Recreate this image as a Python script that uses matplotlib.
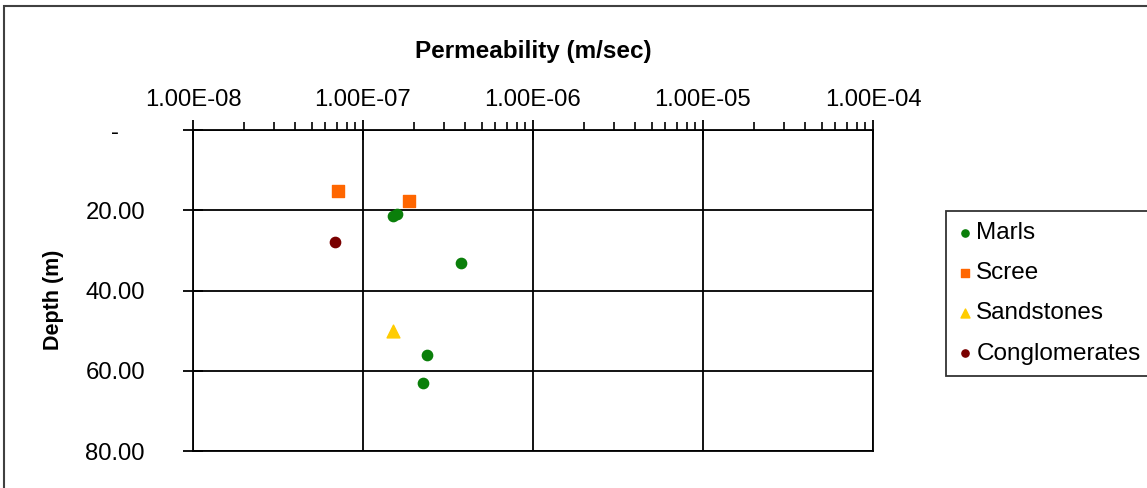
import matplotlib
matplotlib.use('Agg')
import matplotlib.pyplot as plt
from matplotlib.patches import Rectangle
from matplotlib.ticker import LogLocator, FixedLocator, NullFormatter

plt.rcParams['font.family'] = ['Liberation Sans', 'DejaVu Sans']

# permeability (m/sec) and depth (m) per rock type
marls_k = [1.50e-7, 1.58e-7, 3.77e-7, 2.38e-7, 2.25e-7]
marls_d = [21.4, 20.9, 33.2, 56.1, 63.0]
scree_k = [7.1e-8, 1.86e-7]
scree_d = [15.2, 17.6]
sand_k = [1.50e-7]
sand_d = [50.0]
cong_k = [6.8e-8]
cong_d = [28.0]

x_ticks = [1e-8, 1e-7, 1e-6, 1e-5, 1e-4]
x_labels = ['1.00E-08', '1.00E-07', '1.00E-06', '1.00E-05', '1.00E-04']
y_ticks = [0, 20, 40, 60, 80]
y_labels = ['-', '20.00', '40.00', '60.00', '80.00']

W, H = 1147, 488
fig = plt.figure(figsize=(W / 100, H / 100), dpi=100)
ax = fig.add_axes([193 / W, 1 - 451 / H, 680 / W, 321 / H])

ax.scatter(marls_k, marls_d, s=55, marker='o', color='#0a7f0a', label='Marls', zorder=3)
ax.scatter(scree_k, scree_d, s=70, marker='s', color='#ff6600', label='Scree', zorder=3)
ax.scatter(sand_k, sand_d, s=85, marker='^', color='#ffcc00', label='Sandstones', zorder=3)
ax.scatter(cong_k, cong_d, s=55, marker='o', color='#7a0000', label='Conglomerates', zorder=3)

ax.set_xscale('log')
ax.set_xlim(1e-8, 1e-4)
ax.set_ylim(80, 0)

ax.xaxis.set_ticks_position('top')
ax.xaxis.set_label_position('top')
ax.xaxis.set_major_locator(FixedLocator(x_ticks))
ax.set_xticklabels(x_labels)
ax.xaxis.set_minor_locator(LogLocator(base=10, subs=range(2, 10)))
ax.xaxis.set_minor_formatter(NullFormatter())
ax.set_yticks(y_ticks)
ax.set_yticklabels(y_labels)

ax.tick_params(axis='x', which='major', direction='inout', length=14, width=1.3,
               labelsize=17.2, pad=7)
ax.tick_params(axis='x', which='minor', direction='out', length=6, width=1.2)
ax.tick_params(axis='y', which='major', direction='inout', length=14, width=1.3,
               labelsize=17.2, pad=49)
for lbl in ax.get_yticklabels():
    lbl.set_horizontalalignment('center')

ax.grid(True, which='major', color='black', linewidth=1.3)
for s in ax.spines.values():
    s.set_linewidth(1.3)
    s.set_color('black')

ax.set_xlabel('Permeability (m/sec)', fontsize=17.5, fontweight='bold', labelpad=22)
ax.set_ylabel('Depth (m)', fontsize=15.5, fontweight='bold')
ax.yaxis.set_label_coords(-0.19, 0.47)

leg = fig.legend(loc='upper left', bbox_to_anchor=(946 / W, 1 - 211 / H),
                 borderaxespad=0, fontsize=17.5, frameon=True, fancybox=False,
                 handletextpad=0.1, handlelength=0.7, labelspacing=0.75,
                 markerscale=0.7, borderpad=0.45)
leg.get_frame().set_edgecolor('black')
leg.get_frame().set_linewidth(1.3)

# outer chart border (cut off at right and bottom)
fig.patches.append(Rectangle((4 / W, -0.2), 1.2, 1.2 - 6 / H,
                             transform=fig.transFigure, fill=False,
                             edgecolor='#404040', linewidth=1.5))

fig.savefig('out.png', dpi=100)
